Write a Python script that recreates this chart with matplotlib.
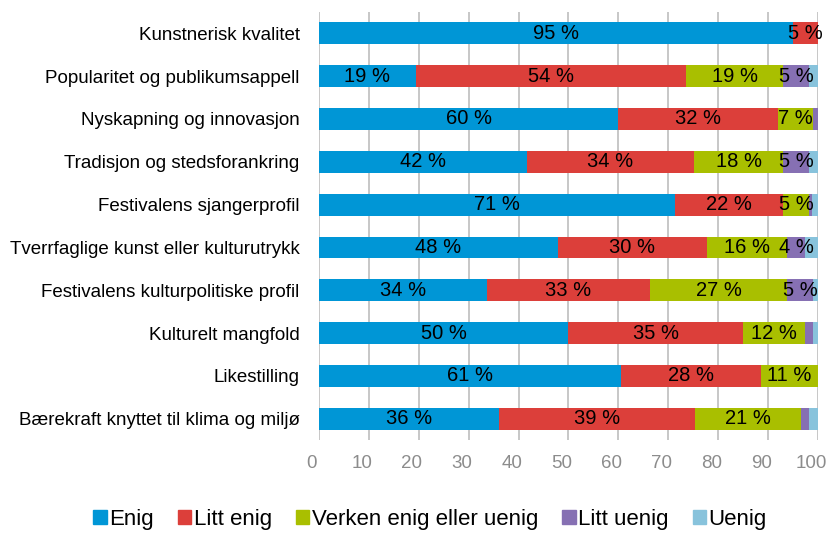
import matplotlib.pyplot as plt
from matplotlib.patches import Patch
from matplotlib.transforms import ScaledTranslation
import numpy as np

plt.rcParams['font.family'] = ['Liberation Sans', 'DejaVu Sans']

categories = [
    'Kunstnerisk kvalitet',
    'Popularitet og publikumsappell',
    'Nyskapning og innovasjon',
    'Tradisjon og stedsforankring',
    'Festivalens sjangerprofil',
    'Tverrfaglige kunst eller kulturutrykk',
    'Festivalens kulturpolitiske profil',
    'Kulturelt mangfold',
    'Likestilling',
    'Bærekraft knyttet til klima og miljø',
]
enig = [95, 19.4, 60, 41.6, 71.4, 47.8, 33.6, 50, 60.6, 36]
litt_enig = [5, 54.2, 32, 33.6, 21.6, 30, 32.8, 35, 28, 39.4]
verken = [0, 19.4, 7, 17.8, 5.2, 16, 27.4, 12.4, 11.4, 21.2]
litt_uenig = [0, 5.2, 1, 5.2, 0.6, 3.6, 5.2, 1.6, 0, 1.6]
uenig = [0, 1.8, 0, 1.8, 1.2, 2.6, 1.0, 1.0, 0, 1.8]

series = ['Enig', 'Litt enig', 'Verken enig eller uenig', 'Litt uenig', 'Uenig']
colors = ['#0096d6', '#dc3f3a', '#a9bf00', '#8670b3', '#88c3dc']

fig = plt.figure(figsize=(8.27, 5.42), dpi=100)
ax = fig.add_axes([0.3857, 0.188, 0.6034, 0.79])

y = np.arange(len(categories))
left = np.zeros(len(categories))
for vals, name, col in zip([enig, litt_enig, verken, litt_uenig, uenig], series, colors):
    vals = np.array(vals)
    ax.barh(y, vals, left=left, height=0.51, color=col, label=name, zorder=3)
    for yi, (l, v) in enumerate(zip(left, vals)):
        if v >= 3.5:
            ax.text(l + v / 2, yi, f'{v:.0f} %', ha='center', va='center',
                    fontsize=14.5, color='black', zorder=4)
    left += vals

ax.set_xlim(0, 100)
ax.set_ylim(len(categories) - 0.5, -0.5)
ax.set_yticks(y)
ax.set_yticklabels(categories, fontsize=13.5)
ax.set_xticks(range(0, 101, 10))
ax.tick_params(axis='x', colors='#8c8c8c', labelsize=13.5, length=0, pad=11)
ax.tick_params(axis='y', length=0, pad=14)
ax.xaxis.grid(True, color='#bdbdbd', linewidth=1.2, zorder=0)
for s in ax.spines.values():
    s.set_visible(False)

# tick labels sit a little left of their gridlines in the original
shift = ScaledTranslation(-7 / 100, 0, fig.dpi_scale_trans)
for lbl in ax.get_xticklabels():
    lbl.set_transform(lbl.get_transform() + shift)

handles = [Patch(color=c, label=n) for c, n in zip(colors, series)]
fig.legend(handles=handles, loc='lower center', bbox_to_anchor=(0.52, -0.015), ncol=5,
           frameon=False, fontsize=16, handlelength=0.6, handleheight=0.6,
           handletextpad=0.1, columnspacing=1.1)

fig.savefig('out.png', dpi=100)
